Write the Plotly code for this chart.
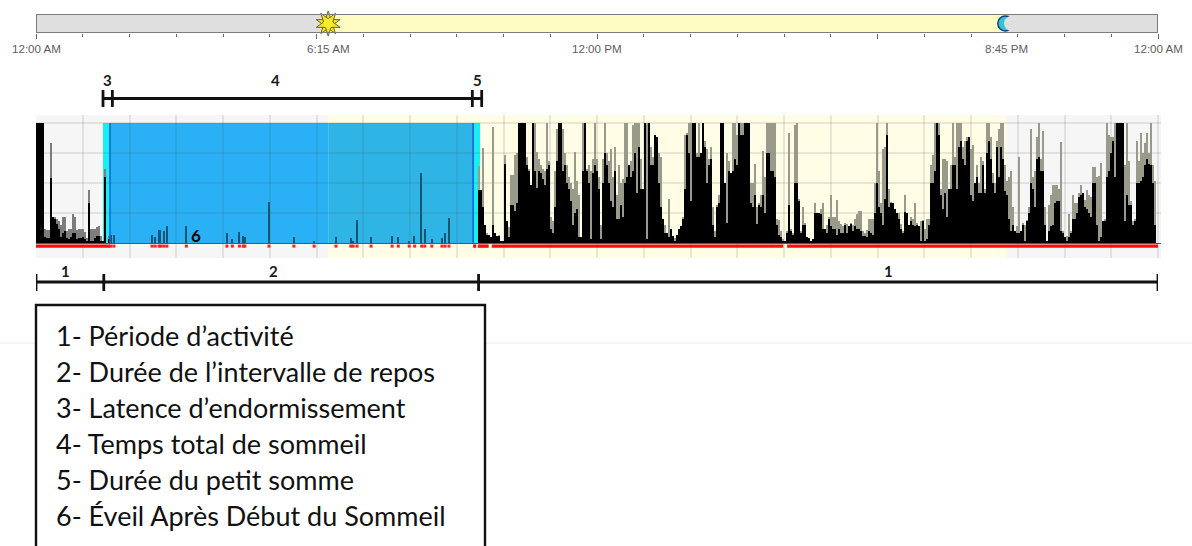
import plotly.graph_objects as go

# ---------- data (activity as % of the chart height, time in minutes after midnight) ----------
PRE_CORE = [100,100,100,100,5,4,4,54,22,20,
            16,12,5,8,10,4,3,5,8,8,
            3,4,4,5,3,2,33,2,2,4,
            6,6,2,2,55,0,3]
PRE_PEAK = [100,100,100,100,12,11,11,83,22,22,
            20,18,15,22,22,10,12,12,24,22,
            11,12,12,12,9,4,44,12,12,12,
            13,14,6,2,62,0,6]

SLEEP_TIMES = [96,100,149,153,158,160,164,168,193,245,252,261,266,268,299,331,
               357,385,404,407,412,430,457,465,479,486,495,499,508,521,525,530]
SLEEP_VALUES = [7,7,7,5,11,11,10,14,14,8,3,9,6,5,34,5,
                2,5,4,2,19,5,6,5,2,6,58,12,3,4,8,21]

ACTIVE_CORE = [
    44,44,30,15,7,7,5,15,8,6,
    6,2,1,66,18,5,32,32,27,33,
    100,100,100,100,65,60,48,100,60,46,
    60,58,53,48,62,65,12,8,30,68,
    100,100,60,65,50,45,35,15,25,28,
    5,5,60,100,60,50,3,58,65,60,
    45,3,50,75,65,50,35,30,60,20,
    20,32,22,50,55,65,55,60,75,42,
    80,45,45,100,3,100,65,65,90,88,
    50,30,20,8,8,5,12,6,2,7,
    12,14,20,45,90,75,35,100,100,72,
    72,75,100,80,50,65,70,15,5,30,
    33,100,100,50,17,60,58,60,70,65,
    100,90,90,100,100,100,33,30,40,16,
    32,30,40,25,75,75,60,60,55,15,
    7,5,1,1,8,32,10,7,50,50,
    35,8,15,15,5,4,2,3,25,25,
    25,24,12,12,8,20,14,12,12,7,
    12,8,8,15,8,14,16,10,14,12,
    12,10,6,6,5,10,8,7,25,50,
    30,25,15,37,90,30,33,33,28,25,
    20,12,8,26,25,15,18,15,14,15,
    14,2,18,1,3,15,50,50,60,100,
    90,40,28,42,22,45,45,65,65,45,
    80,85,70,65,85,88,40,35,50,55,
    42,42,65,42,75,85,70,50,42,80,
    55,80,70,43,40,20,10,15,10,8,
    8,10,15,2,18,25,50,45,30,70,
    72,60,60,15,2,10,14,15,33,35,
    35,10,8,5,2,5,8,20,20,25,
    38,40,42,30,28,25,22,50,50,15,
    2,5,18,18,55,60,75,85,55,100,
    100,100,100,18,40,32,32,15,18,50,
    50,52,55,65,70,66,65,50,15]
ACTIVE_PEAK = [
    64,44,79,15,8,7,5,97,8,6,
    7,2,1,73,18,13,57,57,73,75,
    100,100,100,100,72,62,48,100,100,76,
    70,65,62,60,100,68,22,18,60,95,
    100,100,95,75,65,55,50,45,76,52,
    40,5,100,100,62,65,60,70,100,70,
    55,15,70,100,75,68,78,55,80,40,
    65,50,53,100,100,65,68,98,100,100,
    100,70,45,100,100,100,80,72,90,88,
    75,72,20,15,8,37,12,6,4,7,
    12,14,22,90,92,100,100,100,100,75,
    100,75,100,85,78,70,80,30,10,32,
    40,100,100,50,75,68,58,100,100,90,
    100,100,100,100,100,100,50,50,66,30,
    33,40,77,55,100,100,100,100,100,20,
    19,10,3,1,10,92,12,8,98,100,
    37,10,30,17,5,4,2,3,33,25,
    25,28,33,12,15,22,40,22,22,36,
    18,16,14,17,16,14,17,15,20,24,
    27,27,10,8,11,20,20,20,50,100,
    60,33,78,80,100,45,34,33,28,25,
    25,16,10,40,25,15,22,20,33,17,
    14,18,19,12,20,20,65,73,100,100,
    100,45,70,70,68,45,65,100,72,100,
    100,100,80,85,88,88,78,82,50,65,
    50,72,68,45,100,100,88,58,50,85,
    95,100,100,65,52,55,60,30,10,14,
    72,10,17,15,19,30,95,55,60,88,
    100,70,93,30,2,32,40,48,48,48,
    45,84,10,5,6,24,10,40,33,33,
    42,48,42,36,44,40,38,63,63,55,
    56,67,18,20,100,90,88,88,100,100,
    100,100,100,65,100,68,35,18,20,85,
    68,92,75,83,92,75,100,65,52]

DAY_MINUTES = 1440
BIN_COUNT = 561                 # one bar per activity epoch across the day
SUNRISE, SUNSET = 375, 1245     # 6:15 AM, 8:45 PM
REST_START, SLEEP_START = 86, 95
SLEEP_END, REST_END = 561, 570
AWAKE_SEGMENTS = [(0, 95), (561, 565), (567, 581), (585, 959), (964, 1440)]
TOP_LABEL_TIMES = [0, 375, 720, 1245, 1440]
TOP_LABELS = ["12:00 AM", "6:15 AM", "12:00 PM", "8:45 PM", "12:00 AM"]
UPPER_BRACKET_TICKS = [86, 98, 560, 572]
LOWER_BRACKET_TICKS = [0, 87, 568, 1440]
UPPER_LABELS = [("3", 92), ("4", 307), ("5", 567)]
LOWER_LABELS = [("1", 38), ("2", 305), ("1", 1094)]
LEGEND_ITEMS = ["1- Période d’activité", "2- Durée de l’intervalle de repos",
                "3- Latence d’endormissement", "4- Temps total de sommeil",
                "5- Durée du petit somme", "6- Éveil Après Début du Sommeil"]

# ---------- page helpers ----------
W, H = 1192, 546
def pxx(p): return p / W
def pxy(p): return 1 - p / H

BIN = DAY_MINUTES / BIN_COUNT
PRE_X = [(i + .5) * BIN for i in range(len(PRE_CORE))]
ACTIVE_OFFSET = BIN_COUNT - len(ACTIVE_CORE) - 1
ACTIVE_X = [(ACTIVE_OFFSET + i + .5) * BIN for i in range(len(ACTIVE_CORE))]

fig = go.Figure()
GREY = "#9a9a8a"
fig.add_bar(x=PRE_X, y=PRE_PEAK, width=BIN * .5, marker=dict(color="#7d7d7d", line_width=0))
fig.add_bar(x=PRE_X, y=PRE_CORE, width=BIN, marker=dict(color="#000", line_width=0))
fig.add_bar(x=SLEEP_TIMES, y=SLEEP_VALUES, width=BIN * .7, marker=dict(color="#17566f", line_width=0))
fig.add_bar(x=ACTIVE_X, y=ACTIVE_PEAK, width=BIN * .5, marker=dict(color=GREY, line_width=0))
fig.add_bar(x=ACTIVE_X, y=ACTIVE_CORE, width=BIN, marker=dict(color="#000", line_width=0))

seg_x, seg_y = [], []
for a, b in AWAKE_SEGMENTS:
    seg_x += [a, b, None]
    seg_y += [-2.6, -2.6, None]
fig.add_scatter(x=seg_x, y=seg_y, mode="lines", line=dict(color="#ff0d0d", width=3.4))
fig.add_scatter(x=SLEEP_TIMES, y=[-2.6] * len(SLEEP_TIMES), mode="markers",
                marker=dict(symbol="square", color="#ff2020", size=3, line_width=0))

# top day/night strip icons
for ang in (0, 36):
    fig.add_scatter(x=[SUNRISE], y=[.5], xaxis="x2", yaxis="y2", mode="markers", cliponaxis=False,
                    marker=dict(symbol="star", size=18, angle=ang, color="#f3e02a",
                                line=dict(color="#6d6a20", width=1)))
fig.add_scatter(x=[SUNRISE], y=[.5], xaxis="x2", yaxis="y2", mode="markers", cliponaxis=False,
                marker=dict(symbol="circle", size=9, color="#fbe92c", line_width=0))
fig.add_scatter(x=[SUNSET - 1], y=[.5], xaxis="x2", yaxis="y2", mode="markers",
                marker=dict(symbol="circle", size=15, color="#35c4cf", line=dict(color="#123a8a", width=1.5)))
fig.add_scatter(x=[SUNSET + 7], y=[.5], xaxis="x2", yaxis="y2", mode="markers",
                marker=dict(symbol="circle", size=15, color="#dfdfdf", line_width=0))

shapes = []
def rect(x0, x1, color, y0=-12.5, y1=106.67):
    shapes.append(dict(type="rect", xref="x", yref="y", x0=x0, x1=x1, y0=y0, y1=y1,
                       fillcolor=color, line_width=0, layer="below"))
rect(0, SUNRISE, "#f6f6f6")
rect(SUNRISE, SUNSET, "#fffde6")
rect(SUNSET, DAY_MINUTES + 4, "#f6f6f6")
rect(SLEEP_START, SUNRISE, "#29b0f5", 0, 100)
rect(SUNRISE, SLEEP_END, "#2eb5e6", 0, 100)
rect(REST_START, SLEEP_START, "#19eef5", 0, 100)
rect(SLEEP_END, REST_END, "#19eef5", 0, 100)
for t in (SLEEP_START, SLEEP_END):
    shapes.append(dict(type="line", xref="x", yref="y", x0=t, x1=t, y0=0, y1=100,
                       line=dict(color="#1763dd", width=1.6)))

# top strip
for a, b, c in [(0, SUNRISE, "#dfdfdf"), (SUNRISE, SUNSET, "#fdfbc2"), (SUNSET, DAY_MINUTES, "#dfdfdf")]:
    shapes.append(dict(type="rect", xref="x2", yref="y2", x0=a, x1=b, y0=0, y1=1,
                       fillcolor=c, line_width=0, layer="below"))
shapes.append(dict(type="rect", xref="x2", yref="y2", x0=0, x1=DAY_MINUTES, y0=0, y1=1,
                   line=dict(color="#7c7c7c", width=2)))

# brackets
def hline(x0, x1, yp):
    shapes.append(dict(type="line", xref="x2", yref="paper", x0=x0, x1=x1, y0=pxy(yp), y1=pxy(yp),
                       line=dict(color="#111", width=2.8)))
def vtick(x, y0, y1):
    shapes.append(dict(type="line", xref="x2", yref="paper", x0=x, x1=x, y0=pxy(y0), y1=pxy(y1),
                       line=dict(color="#111", width=2.8)))
hline(UPPER_BRACKET_TICKS[0], UPPER_BRACKET_TICKS[-1], 98.5)
for t in UPPER_BRACKET_TICKS:
    vtick(t, 90, 107)
hline(LOWER_BRACKET_TICKS[0], LOWER_BRACKET_TICKS[-1], 282)
for t in LOWER_BRACKET_TICKS:
    vtick(t, 274, 291)

# faint page rule and the key box
shapes.append(dict(type="line", xref="paper", yref="paper", x0=0, x1=1, y0=pxy(343), y1=pxy(343),
                   line=dict(color="#ececec", width=1), layer="below"))
shapes.append(dict(type="rect", xref="paper", yref="paper", x0=pxx(36), x1=pxx(485), y0=pxy(305), y1=pxy(560),
                   fillcolor="#fff", line=dict(color="#111", width=2.4)))

ann = []
for t, s in zip(TOP_LABEL_TIMES, TOP_LABELS):
    ann.append(dict(x=t, xref="x2", y=pxy(48), yref="paper", yanchor="middle", text=s, showarrow=False,
                    font=dict(family="Liberation Sans", size=11.6, color="#5e5e5e")))
for s, t in UPPER_LABELS:
    ann.append(dict(x=t, xref="x2", y=pxy(80), yref="paper", yanchor="middle", text=f"<b>{s}</b>", showarrow=False,
                    font=dict(family="Lato", size=15, color="#1a1a1a")))
for s, t in LOWER_LABELS:
    ann.append(dict(x=t, xref="x2", y=pxy(271), yref="paper", yanchor="middle", text=f"<b>{s}</b>", showarrow=False,
                    font=dict(family="Lato", size=15, color="#1a1a1a")))
ann.append(dict(x=pxx(189), xref="paper", y=pxy(235), yref="paper", yanchor="middle", text="<b>6</b>", showarrow=False,
                font=dict(family="Lato", size=17, color="#000")))
LEGEND_Y = [335, 371, 407, 443, 479, 515]
for s, yp in zip(LEGEND_ITEMS, LEGEND_Y):
    ann.append(dict(x=pxx(56), xref="paper", xanchor="left", xshift=-2, y=pxy(yp), yref="paper", yanchor="middle",
                    text=s, showarrow=False, font=dict(family="Lato", size=27, color="#111")))

fig.update_layout(
    width=W, height=H, margin=dict(l=0, r=0, t=0, b=0), autosize=False,
    paper_bgcolor="#fff", plot_bgcolor="rgba(0,0,0,0)",
    barmode="overlay", bargap=0, showlegend=False, hovermode=False,
    shapes=shapes, annotations=ann,
    xaxis=dict(domain=[pxx(36), pxx(1161)], range=[0, 1443.85], dtick=60, tick0=0, showgrid=True,
               gridcolor="rgba(70,70,70,.12)", gridwidth=1.5, showticklabels=False, ticks="", zeroline=False),
    yaxis=dict(domain=[pxy(258), pxy(115)], range=[-12.5, 106.67], dtick=25, tick0=0, showgrid=True,
               gridcolor="rgba(70,70,70,.12)", gridwidth=1.5, showticklabels=False, ticks="",
               zeroline=True, zerolinecolor="#555", zerolinewidth=1.2),
    xaxis2=dict(domain=[pxx(36), pxx(1158)], range=[0, DAY_MINUTES], anchor="y2", showgrid=False,
                zeroline=False, showticklabels=False, ticks="outside", dtick=360, tick0=0, ticklen=5,
                tickcolor="#666", tickwidth=1.2,
                minor=dict(dtick=60, tick0=0, ticks="outside", ticklen=3, tickcolor="#666", tickwidth=1.2)),
    yaxis2=dict(domain=[pxy(33), pxy(14)], range=[0, 1], anchor="x2", showgrid=False, zeroline=False,
                showticklabels=False, ticks=""),
)
fig.write_html("out.html", config=dict(displayModeBar=False),
               post_script="document.body.style.margin='0';")
